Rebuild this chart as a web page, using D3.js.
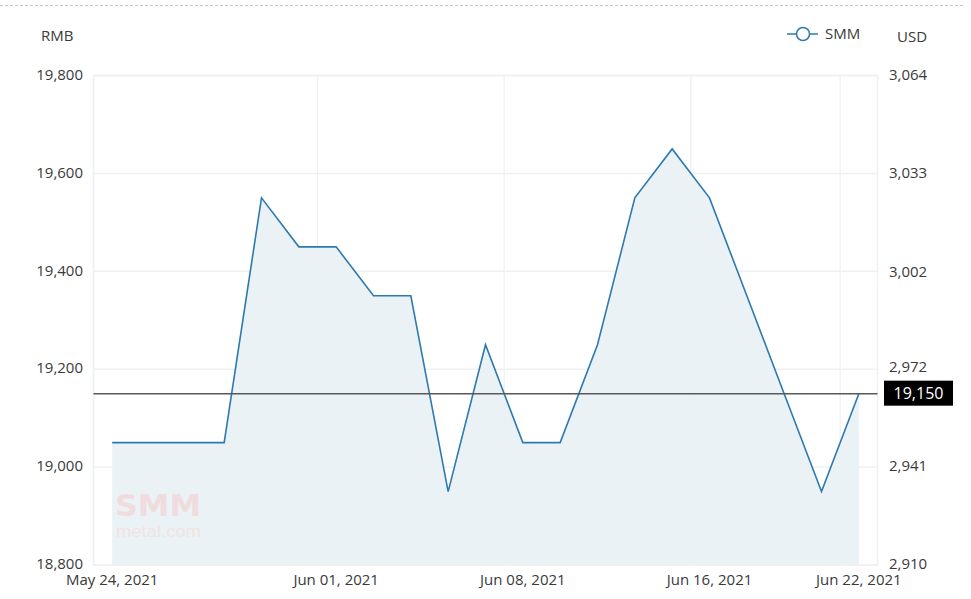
<!DOCTYPE html>
<html><head><meta charset="utf-8">
<script src="https://cdn.jsdelivr.net/npm/d3@7"></script>
<style>
body{margin:0;background:#fff;}
svg{display:block;font-family:"Open Sans",sans-serif;}
</style>
</head><body>
<svg id="c" width="971" height="599"></svg>
<script>
const dates = ["May 24, 2021","May 25, 2021","May 26, 2021","May 27, 2021","May 28, 2021","May 31, 2021",
  "Jun 01, 2021","Jun 02, 2021","Jun 03, 2021","Jun 04, 2021","Jun 07, 2021","Jun 08, 2021","Jun 09, 2021",
  "Jun 10, 2021","Jun 11, 2021","Jun 15, 2021","Jun 16, 2021","Jun 17, 2021","Jun 18, 2021","Jun 21, 2021","Jun 22, 2021"];
const prices = [19050,19050,19050,19050,19550,19450,19450,19350,19350,18950,19250,19050,19050,19250,19550,19650,19550,19350,19150,18950,19150];
const rmbTicks = [18800,19000,19200,19400,19600,19800];
const usdTicks = [2910,2941,2972,3002,3033,3064];
const usdDomain = [2910,3064];
const xLabels = ["May 24, 2021","Jun 01, 2021","Jun 08, 2021","Jun 16, 2021","Jun 22, 2021"];
const latest = 19150;
const seriesName = "SMM";

const svg = d3.select("#c");
const L = 93.5, R = 877.5, T = 75.5, B = 565;
const lineColor = "#2d7aae";
const textColor = "#3a3a3a";

const x = d3.scalePoint().domain(dates).range([L, R]).padding(0.5);
const y = d3.scaleLinear().domain([18800, 19800]).range([B, T]);
const yUsd = d3.scaleLinear().domain(usdDomain).range([B, T]);
const step = x.step();
const fmt = d3.format(",");

// top dashed line
svg.append("line").attr("x1", 0).attr("x2", 965).attr("y1", 5.5).attr("y2", 5.5)
  .attr("stroke", "#c4c4c4").attr("stroke-dasharray", "3,2");

// plot border
svg.append("rect").attr("x", L).attr("y", T).attr("width", R - L).attr("height", B - T)
  .attr("fill", "none").attr("stroke", "#f0f0f0").attr("stroke-width", 1.5);

// horizontal grid
svg.append("g").selectAll("line").data(rmbTicks).join("line")
  .attr("x1", L).attr("x2", R).attr("y1", d => y(d)).attr("y2", d => y(d))
  .attr("stroke", "#f0f0f0").attr("stroke-width", 1.5);

// area + line
const area = d3.area().x((d, i) => x(dates[i])).y0(B).y1(d => y(d));
const line = d3.line().x((d, i) => x(dates[i])).y(d => y(d));
svg.append("path").datum(prices).attr("d", area).attr("fill", "#eaf2f6");

// vertical grid (between categories)
svg.append("g").selectAll("line").data(xLabels).join("line")
  .attr("x1", d => x(d) - step / 2).attr("x2", d => x(d) - step / 2)
  .attr("y1", T).attr("y2", B)
  .attr("stroke", "#eef0f1").attr("stroke-width", 1.2);

// watermark
svg.append("text").attr("x", 115).attr("y", 516).text("SMM")
  .attr("font-family", "'DejaVu Sans', sans-serif").attr("font-weight", "bold")
  .attr("font-size", 30).attr("textLength", 86).attr("lengthAdjust", "spacingAndGlyphs")
  .attr("fill", "#f0dcdc");
svg.append("text").attr("x", 116).attr("y", 537).text("metal.com")
  .attr("font-family", "'Liberation Sans', sans-serif")
  .attr("font-size", 16).attr("textLength", 85).attr("lengthAdjust", "spacingAndGlyphs")
  .attr("fill", "#f1e3e3");

svg.append("path").datum(prices).attr("d", line).attr("fill", "none")
  .attr("stroke", lineColor).attr("stroke-width", 1.6).attr("stroke-linejoin", "miter");

// latest line
svg.append("line").attr("x1", L).attr("x2", R).attr("y1", y(latest)).attr("y2", y(latest))
  .attr("stroke", "#595959").attr("stroke-width", 1.5);
svg.append("rect").attr("x", 884).attr("y", y(latest) - 13).attr("width", 69).attr("height", 25).attr("fill", "#000");
svg.append("text").attr("x", 918.5).attr("y", y(latest)).attr("dy", "0.36em").attr("text-anchor", "middle")
  .attr("fill", "#fff").attr("font-size", 16).text(fmt(latest));

// left axis labels
svg.append("g").selectAll("text").data(rmbTicks).join("text")
  .attr("x", 83).attr("y", d => y(d) - 1).attr("dy", "0.35em").attr("text-anchor", "end")
  .attr("font-size", 15).attr("fill", textColor).text(d => fmt(d));

// right axis labels
svg.append("g").selectAll("text").data(usdTicks).join("text")
  .attr("x", 889).attr("y", d => yUsd(d) - 1).attr("dy", "0.35em").attr("text-anchor", "start")
  .attr("font-size", 15).attr("fill", textColor).text(d => fmt(d));

// x labels
svg.append("g").selectAll("text").data(xLabels).join("text")
  .attr("x", d => x(d)).attr("y", 585).attr("text-anchor", "middle")
  .attr("font-size", 15).attr("fill", textColor).text(d => d);

// axis titles
svg.append("text").attr("x", 41).attr("y", 41).attr("font-size", 15).attr("fill", textColor).text("RMB");
svg.append("text").attr("x", 897).attr("y", 42).attr("font-size", 15).attr("fill", textColor).text("USD");

// legend
svg.append("line").attr("x1", 787).attr("x2", 818).attr("y1", 34).attr("y2", 34)
  .attr("stroke", lineColor).attr("stroke-width", 1.5);
svg.append("circle").attr("cx", 803).attr("cy", 34).attr("r", 6.5)
  .attr("fill", "#fff").attr("stroke", lineColor).attr("stroke-width", 1.5);
svg.append("text").attr("x", 825).attr("y", 39).attr("font-size", 15).attr("fill", textColor).text(seriesName);
</script>
</body></html>
